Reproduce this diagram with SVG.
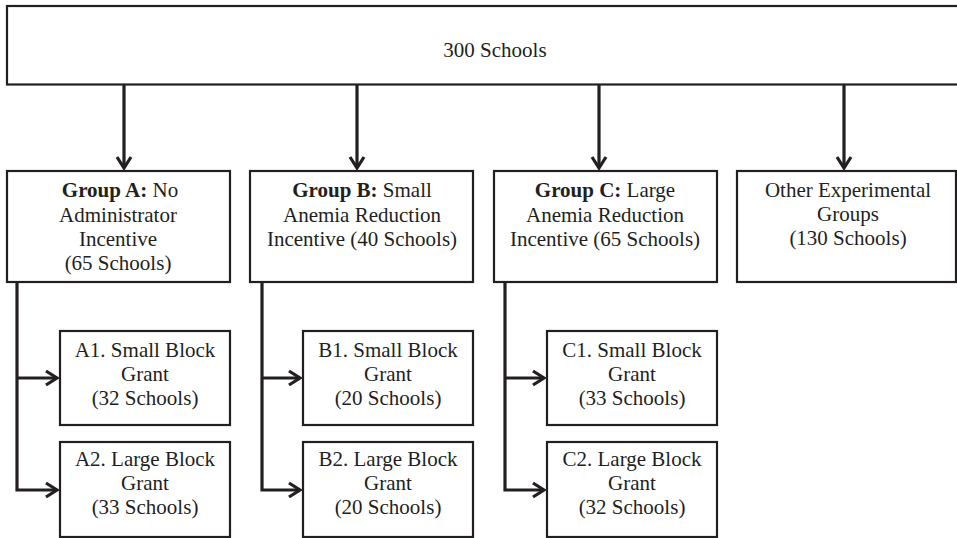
<svg xmlns="http://www.w3.org/2000/svg" width="957" height="538" viewBox="0 0 957 538">
<defs>
<style>
.box{fill:#fff;stroke:#231f20;stroke-width:2.2}
.t{font-family:"Liberation Serif","Times New Roman",serif;font-size:21px;fill:#231f20;text-anchor:middle}
.b{font-weight:bold}
.ln{fill:none;stroke:#231f20;stroke-width:3.2}
.hd{fill:none;stroke:#231f20;stroke-width:3.2;stroke-linejoin:miter}
</style>
<marker id="ah" viewBox="0 0 10 10" refX="9" refY="5" markerWidth="5" markerHeight="5" orient="auto" markerUnits="userSpaceOnUse">
</marker>
</defs>
<rect width="957" height="538" fill="#fff"/>
<g id="root">
<rect class="box" x="7" y="6" width="990" height="78.5"/>
<text class="t" x="495" y="57">300 Schools</text>
</g>
<g id="groupA">
<rect class="box" x="7" y="171" width="223" height="111"/>
<text class="t" x="120" y="197"><tspan class="b">Group A:</tspan> No</text>
<text class="t" x="118" y="222">Administrator</text>
<text class="t" x="118" y="246">Incentive</text>
<text class="t" x="118" y="270">(65 Schools)</text>
</g>
<g id="groupB">
<rect class="box" x="250" y="171" width="223" height="111"/>
<text class="t" x="362" y="197"><tspan class="b">Group B:</tspan> Small</text>
<text class="t" x="362" y="222">Anemia Reduction</text>
<text class="t" x="362" y="246">Incentive (40 Schools)</text>
</g>
<g id="groupC">
<rect class="box" x="494" y="171" width="223" height="111"/>
<text class="t" x="605" y="197"><tspan class="b">Group C:</tspan> Large</text>
<text class="t" x="605" y="222">Anemia Reduction</text>
<text class="t" x="605" y="246">Incentive (65 Schools)</text>
</g>
<g id="groupOther">
<rect class="box" x="737" y="171" width="219" height="111"/>
<text class="t" x="848" y="197">Other Experimental</text>
<text class="t" x="848" y="221">Groups</text>
<text class="t" x="848" y="245">(130 Schools)</text>
</g>
<g id="A1">
<rect class="box" x="60" y="331" width="170" height="94"/>
<text class="t" x="145" y="357">A1. Small Block</text>
<text class="t" x="145" y="381">Grant</text>
<text class="t" x="145" y="405">(32 Schools)</text>
</g>
<g id="A2">
<rect class="box" x="60" y="442" width="170" height="95"/>
<text class="t" x="145" y="466">A2. Large Block</text>
<text class="t" x="145" y="490">Grant</text>
<text class="t" x="145" y="514">(33 Schools)</text>
</g>
<g id="B1">
<rect class="box" x="303" y="331" width="170" height="94"/>
<text class="t" x="388" y="357">B1. Small Block</text>
<text class="t" x="388" y="381">Grant</text>
<text class="t" x="388" y="405">(20 Schools)</text>
</g>
<g id="B2">
<rect class="box" x="303" y="442" width="170" height="95"/>
<text class="t" x="388" y="466">B2. Large Block</text>
<text class="t" x="388" y="490">Grant</text>
<text class="t" x="388" y="514">(20 Schools)</text>
</g>
<g id="C1">
<rect class="box" x="547" y="331" width="170" height="94"/>
<text class="t" x="632" y="357">C1. Small Block</text>
<text class="t" x="632" y="381">Grant</text>
<text class="t" x="632" y="405">(33 Schools)</text>
</g>
<g id="C2">
<rect class="box" x="547" y="442" width="170" height="95"/>
<text class="t" x="632" y="466">C2. Large Block</text>
<text class="t" x="632" y="490">Grant</text>
<text class="t" x="632" y="514">(32 Schools)</text>
</g>
<g id="connectors">
<path class="ln" d="M124 85V168M357 85V168M599 85V168M844 85V168"/>
<path class="hd" d="M117 157L124 168L131 157M350 157L357 168L364 157M592 157L599 168L606 157M837 157L844 168L851 157"/>
<path class="ln" d="M17 283V490H57M17 378H57M262 283V490H300M262 378H300M505 283V490H544M505 378H544"/>
<path class="hd" d="M46 371L57 378L46 385M46 483L57 490L46 497M289 371L300 378L289 385M289 483L300 490L289 497M533 371L544 378L533 385M533 483L544 490L533 497"/>
</g>
</svg>
